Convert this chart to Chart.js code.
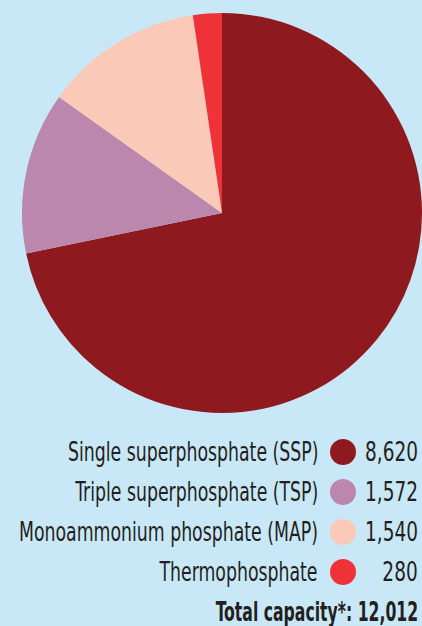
<!DOCTYPE html>
<html>
<head>
<meta charset="utf-8">
<script src="https://cdn.jsdelivr.net/npm/chart.js@4/dist/chart.umd.min.js"></script>
<style>
    html, body {
        margin: 0;
        padding: 0;
        background: #c9e8f7;
        width: 422px;
        height: 626px;
        overflow: hidden;
    }
    #wrap {
        position: absolute;
        left: 0;
        top: 0;
        width: 422px;
        height: 426px;
    }
    #legend {
        position: absolute;
        left: 0;
        top: 432px;
        width: 422px;
        font-family: "DejaVu Sans Condensed", "Liberation Sans Narrow", sans-serif;
        color: #231f20;
    }
    .row {
        position: relative;
        height: 40px;
        font-size: 26px;
        line-height: 40px;
    }
    .row .label {
        position: absolute;
        right: 104px;
        top: 0;
        white-space: nowrap;
        transform: scaleX(0.74);
        transform-origin: right center;
    }
    .row .dot {
        position: absolute;
        left: 330px;
        top: 7px;
        width: 26px;
        height: 26px;
        border-radius: 50%;
    }
    .row .value {
        position: absolute;
        right: 4px;
        top: 0;
        transform: scaleX(0.79);
        transform-origin: right center;
    }
    .total {
        position: absolute;
        right: 4px;
        top: 160px;
        font-size: 26px;
        line-height: 40px;
        font-weight: bold;
        white-space: nowrap;
        transform: scaleX(0.67);
        transform-origin: right center;
    }
</style>
</head>
<body>
<div id="wrap"><canvas id="pie"></canvas></div>
<div id="legend"></div>

<script>
// дані діаграми
const categories = [
    "Single superphosphate (SSP)",
    "Triple superphosphate (TSP)",
    "Monoammonium phosphate (MAP)",
    "Thermophosphate",
];
const capacity = [8620, 1572, 1540, 280];
const sliceColors = ["#8e1a1f", "#bc87ad", "#fbc9b8", "#ee3237"];
const totalLabel = "Total capacity*: ";

function fmt(n) {
    return n.toLocaleString("en-US");
}

// легенда під діаграмою
function renderLegend() {
    const box = document.getElementById("legend");
    categories.forEach((name, i) => {
        const row = document.createElement("div");
        row.className = "row";
        row.innerHTML =
            `<span class="label">${name}</span>` +
            `<span class="dot" style="background:${sliceColors[i]}"></span>` +
            `<span class="value">${fmt(capacity[i])}</span>`;
        box.appendChild(row);
    });
    const total = capacity.reduce((a, b) => a + b, 0);
    const t = document.createElement("div");
    t.className = "total";
    t.textContent = totalLabel + fmt(total);
    box.appendChild(t);
}

const ctx = document.getElementById("pie").getContext("2d");
new Chart(ctx, {
    type: "pie",
    data: {
        labels: categories,
        datasets: [
            {
                data: capacity,
                backgroundColor: sliceColors,
                borderWidth: 0,
            },
        ],
    },
    options: {
        responsive: true,
        maintainAspectRatio: false,
        animation: false,
        layout: {
            padding: { left: 22, right: 0, top: 13, bottom: 13 },
        },
        plugins: {
            legend: { display: false },
            tooltip: { enabled: false },
        },
    },
});

renderLegend();
</script>
</body>
</html>
